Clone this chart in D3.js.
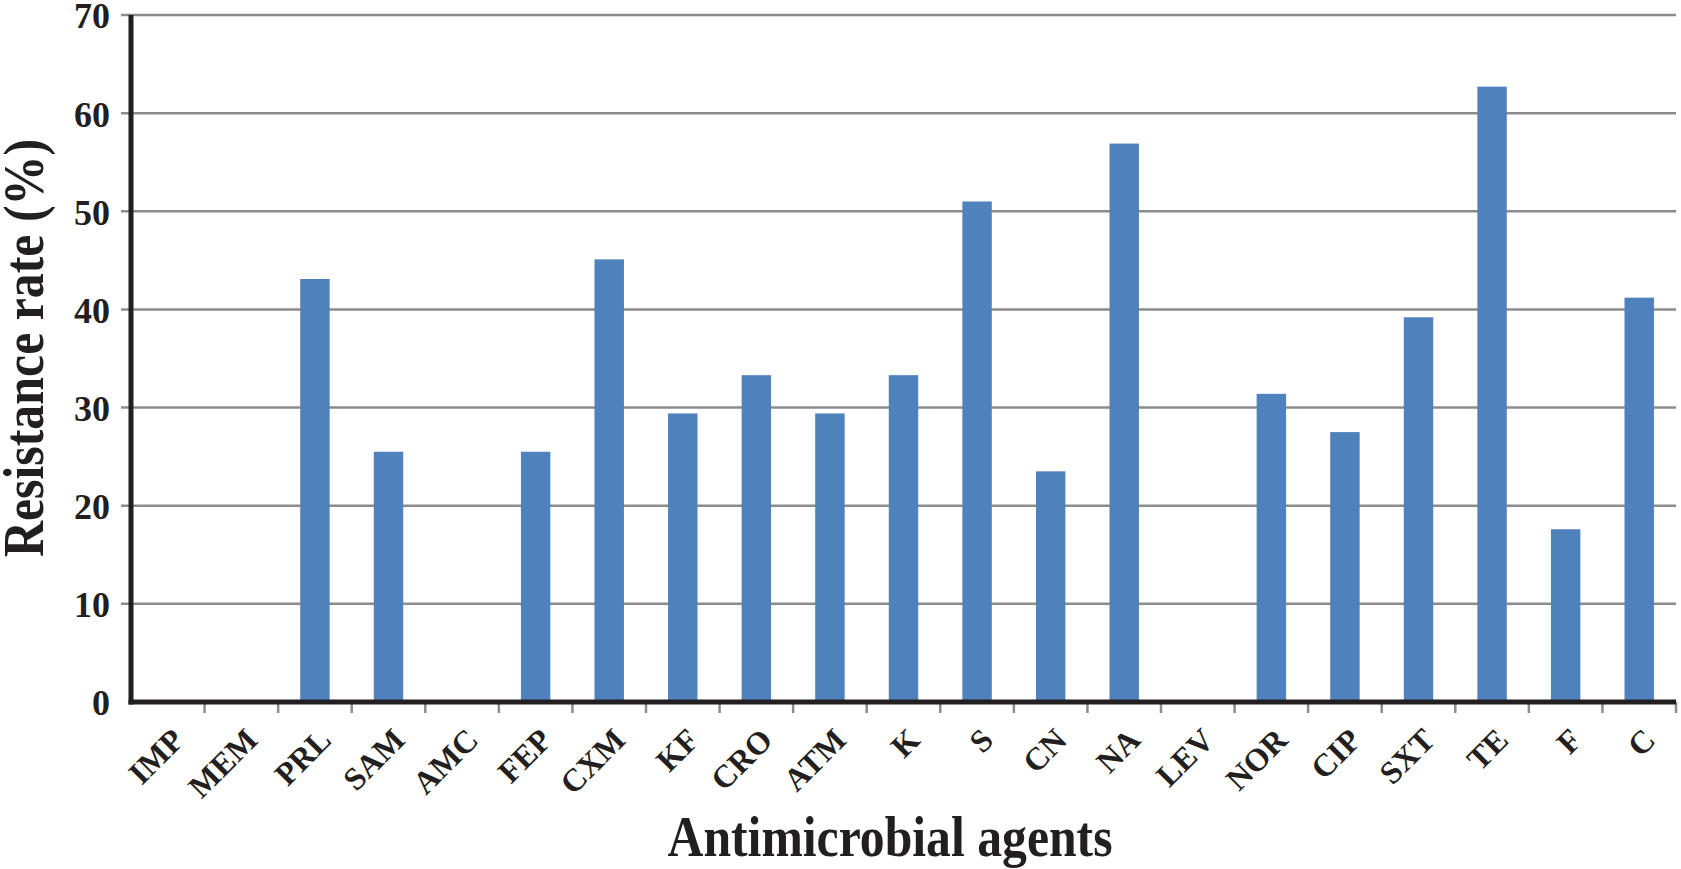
<!DOCTYPE html>
<html>
<head>
<meta charset="utf-8">
<script src="https://cdn.jsdelivr.net/npm/d3@7"></script>
<style>
  html, body { margin: 0; padding: 0; background: #ffffff; }
  svg { display: block; }
  text { font-family: "Liberation Serif", "Times New Roman", serif; font-weight: bold; fill: #231f20; }
</style>
</head>
<body>
<svg id="chart"></svg>
<script>
"use strict";

// Antimicrobial agents on the x axis
const agents = ["IMP", "MEM", "PRL", "SAM", "AMC", "FEP", "CXM", "KF", "CRO", "ATM", "K",
    "S", "CN", "NA", "LEV", "NOR", "CIP", "SXT", "TE", "F", "C"];

// Resistance rate (%) per agent
const resistance = [0, 0, 43.1, 25.5, 0, 25.5, 45.1, 29.4, 33.3, 29.4, 33.3,
    51.0, 23.5, 56.9, 0, 31.4, 27.5, 39.2, 62.7, 17.6, 41.2];

// Y axis tick values
const yTicks = [0, 10, 20, 30, 40, 50, 60, 70];

const width = 1681, height = 869;
const plot = {left: 131, right: 1676, top: 15, bottom: 702};

const svg = d3.select("#chart")
    .attr("width", width)
    .attr("height", height);

const x = d3.scaleBand()
    .domain(agents)
    .range([plot.left, plot.right])
    .paddingInner(0.6)
    .paddingOuter(0.3);

const y = d3.scaleLinear()
    .domain([0, 70])
    .range([plot.bottom, plot.top]);

// Gridlines with their small ticks left of the axis
svg.append("g")
    .selectAll("line")
    .data(yTicks.filter((d) => d > 0))
    .join("line")
    .attr("x1", plot.left - 10)
    .attr("x2", plot.right)
    .attr("y1", (d) => y(d))
    .attr("y2", (d) => y(d))
    .attr("stroke", "#8c8c8c")
    .attr("stroke-width", 2.5);

// Y tick labels through the library's axis
const yAxis = svg.append("g")
    .attr("transform", `translate(${plot.left},0)`)
    .call(d3.axisLeft(y).tickValues(yTicks).tickSize(0).tickPadding(21));
yAxis.select(".domain").remove();
yAxis.selectAll("text")
    .attr("font-family", null)
    .style("font-size", "36px")
    .attr("dy", "0.36em");

// Bars
svg.append("g")
    .selectAll("rect")
    .data(agents)
    .join("rect")
    .attr("x", (d) => x(d))
    .attr("width", x.bandwidth())
    .attr("y", (d, i) => y(resistance[i]))
    .attr("height", (d, i) => y(0) - y(resistance[i]))
    .attr("fill", "#4f81bd");

// Tick marks between categories below the baseline
const step = x.step();
svg.append("g")
    .selectAll("line")
    .data(agents)
    .join("line")
    .attr("x1", (d) => x(d) + x.bandwidth() + step * 0.3)
    .attr("x2", (d) => x(d) + x.bandwidth() + step * 0.3)
    .attr("y1", plot.bottom)
    .attr("y2", plot.bottom + 11)
    .attr("stroke", "#8c8c8c")
    .attr("stroke-width", 2.5);

// Axis lines
svg.append("line")
    .attr("x1", plot.left).attr("x2", plot.left)
    .attr("y1", plot.top).attr("y2", plot.bottom + 2.5)
    .attr("stroke", "#231f20")
    .attr("stroke-width", 5);
svg.append("line")
    .attr("x1", plot.left - 2.5).attr("x2", plot.right)
    .attr("y1", plot.bottom).attr("y2", plot.bottom)
    .attr("stroke", "#231f20")
    .attr("stroke-width", 5);

// X tick labels, rotated
const xAxis = svg.append("g")
    .attr("transform", `translate(0,${plot.bottom})`)
    .call(d3.axisBottom(x).tickSize(0));
xAxis.select(".domain").remove();
xAxis.selectAll("text")
    .attr("font-family", null)
    .style("font-size", "32px")
    .attr("text-anchor", "end")
    .attr("y", 0)
    .attr("dy", 0)
    .attr("transform", "translate(18,40) rotate(-45)");

// Axis titles (the reference face is a touch narrower than Liberation Serif)
svg.append("text")
    .attr("transform", "translate(43,348) rotate(-90)")
    .attr("text-anchor", "middle")
    .attr("textLength", 418)
    .attr("lengthAdjust", "spacingAndGlyphs")
    .style("font-size", "57px")
    .text("Resistance rate (%)");

svg.append("text")
    .attr("x", 890)
    .attr("y", 856)
    .attr("text-anchor", "middle")
    .attr("textLength", 445)
    .attr("lengthAdjust", "spacingAndGlyphs")
    .style("font-size", "57px")
    .text("Antimicrobial agents");
</script>
</body>
</html>
